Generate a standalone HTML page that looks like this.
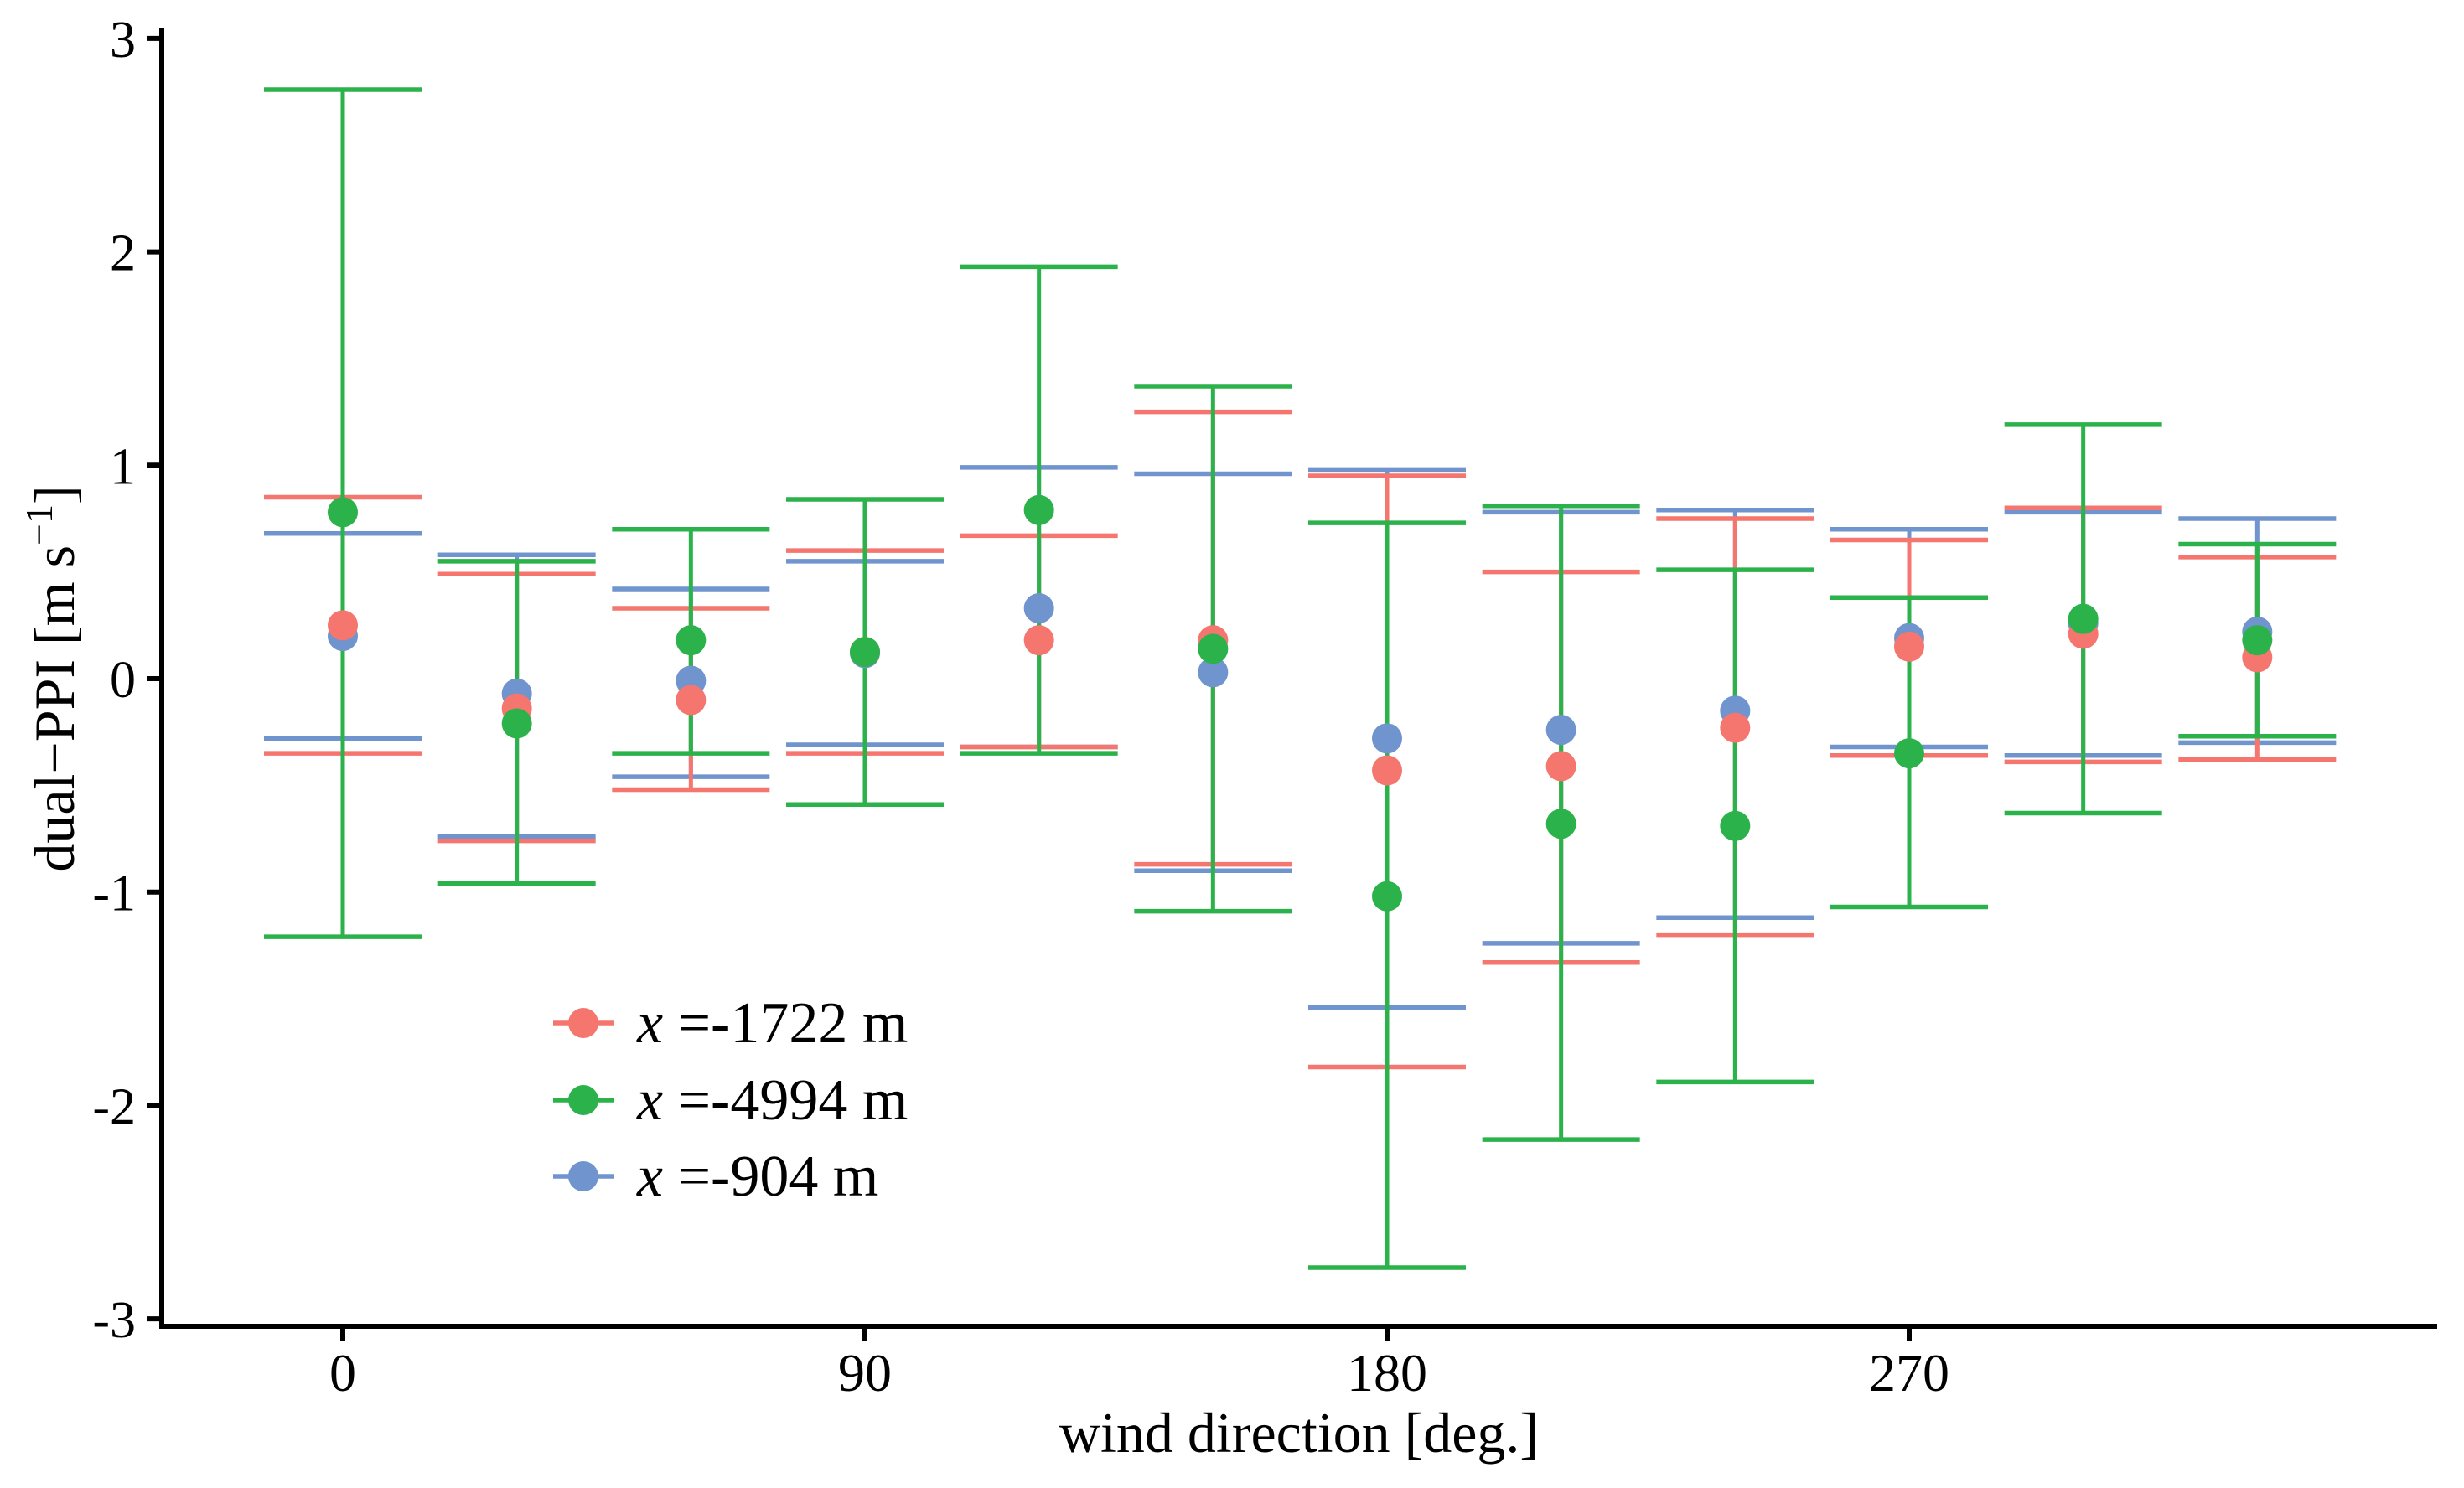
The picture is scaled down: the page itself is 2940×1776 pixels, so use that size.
<!DOCTYPE html>
<html><head><meta charset="utf-8"><style>
html,body{margin:0;padding:0;background:#fff;}
svg{display:block;}
text{font-family:"Liberation Serif",serif;fill:#000;}
</style></head><body>
<svg id="chart" width="2940" height="1776" viewBox="0 0 2940 1776" xmlns="http://www.w3.org/2000/svg">
<g id="marks"></g>
<g id="axes">
<line x1="193" y1="34" x2="193" y2="1586" stroke="#000" stroke-width="6"/>
<line x1="190" y1="1583" x2="2908" y2="1583" stroke="#000" stroke-width="6"/>
</g>
<text x="1550" y="1733" font-size="68" text-anchor="middle">wind direction [deg.]</text>
<text transform="translate(88,810) rotate(-90)" font-size="68" text-anchor="middle">dual−PPI [m s<tspan dy="-26" font-size="46">−1</tspan><tspan dy="26">]</tspan></text>
<g id="legend"></g>
</svg>
<script>
const categories = [0,30,60,90,120,150,180,210,240,270,300,330];
const seriesNames = ["x =-904 m","x =-1722 m","x =-4994 m"];
const blueMean  = [0.20,-0.07,-0.01,0.12,0.33,0.03,-0.28,-0.24,-0.15,0.19,0.26,0.22];
const blueLow   = [-0.28,-0.74,-0.46,-0.31,-0.32,-0.90,-1.54,-1.24,-1.12,-0.32,-0.36,-0.30];
const blueHigh  = [0.68,0.58,0.42,0.55,0.99,0.96,0.98,0.78,0.79,0.70,0.78,0.75];
const redMean   = [0.25,-0.14,-0.10,0.125,0.18,0.18,-0.43,-0.41,-0.23,0.15,0.21,0.10];
const redLow    = [-0.35,-0.76,-0.52,-0.35,-0.32,-0.87,-1.82,-1.33,-1.20,-0.36,-0.39,-0.38];
const redHigh   = [0.85,0.49,0.33,0.60,0.67,1.25,0.95,0.50,0.75,0.65,0.80,0.57];
const greenMean = [0.78,-0.21,0.18,0.125,0.79,0.14,-1.02,-0.68,-0.69,-0.35,0.28,0.18];
const greenLow  = [-1.21,-0.96,-0.35,-0.59,-0.35,-1.09,-2.76,-2.16,-1.89,-1.07,-0.63,-0.27];
const greenHigh = [2.76,0.55,0.70,0.84,1.93,1.37,0.73,0.81,0.51,0.38,1.19,0.63];
const yTicks = [-3,-2,-1,0,1,2,3];
const yTickLabels = ["-3","-2","-1","0","1","2","3"];
const xTicks = [0,90,180,270];
const xTickLabels = ["0","90","180","270"];

const NS = "http://www.w3.org/2000/svg";
function xs(d){ return 409 + d*(623/90); }
function ys(v){ return 810 - v*254.7; }
function mk(tag, attrs, parent){
  const e = document.createElementNS(NS, tag);
  for (const k in attrs) e.setAttribute(k, attrs[k]);
  parent.appendChild(e); return e;
}
const marks = document.getElementById('marks');
const axes = document.getElementById('axes');
const series = [
  {name:'blue', color:'#7094CD', mean:blueMean, low:blueLow, high:blueHigh},
  {name:'red', color:'#F4766E', mean:redMean, low:redLow, high:redHigh},
  {name:'green', color:'#2CB24A', mean:greenMean, low:greenLow, high:greenHigh}
];
const half = 94;
series.forEach(s=>{
  const g = mk('g', {}, marks);
  
  
  categories.forEach((c,i)=>{
    const cx = xs(c);
    const v = mk('line', {x1:cx, x2:cx, y1:ys(s.low[i]), y2:ys(s.high[i]), stroke:s.color, 'stroke-width':5}, g);
    
    
    [s.low[i], s.high[i]].forEach((val,j)=>{
      const cap = mk('line', {x1:cx-half, x2:cx+half, y1:ys(val), y2:ys(val), stroke:s.color, 'stroke-width':5.5}, g);
      
      
    });
  });
});
series.forEach(s=>{
  categories.forEach((c,i)=>{
    const p = mk('circle', {cx:xs(c), cy:ys(s.mean[i]), r:18, fill:s.color}, marks);
    
    
  });
});
yTicks.forEach((t,i)=>{
  const l = mk('line', {x1:175, x2:193, y1:ys(t), y2:ys(t), stroke:'#000', 'stroke-width':6}, axes);
  
  
  const tx = mk('text', {x:162, y:ys(t)+22, 'font-size':62, 'text-anchor':'end'}, axes);
  tx.textContent = yTickLabels[i];
  
  
});
xTicks.forEach((t,i)=>{
  const l = mk('line', {x1:xs(t), x2:xs(t), y1:1583, y2:1601, stroke:'#000', 'stroke-width':6}, axes);
  
  
  const tx = mk('text', {x:xs(t), y:1660, 'font-size':64, 'text-anchor':'middle'}, axes);
  tx.textContent = xTickLabels[i];
  
  
});
const legend = document.getElementById('legend');
const legItems = [
  {color:'#F4766E', label:'-1722 m', y:1221},
  {color:'#2CB24A', label:'-4994 m', y:1313},
  {color:'#7094CD', label:'-904 m', y:1404}
];
legItems.forEach(it=>{
  const g = mk('g', {}, legend);
  
  
  mk('line', {x1:660, x2:733, y1:it.y, y2:it.y, stroke:it.color, 'stroke-width':5.5}, g);
  mk('circle', {cx:696, cy:it.y, r:18, fill:it.color}, g);
  const t = mk('text', {x:760, y:it.y+23, 'font-size':70}, g);
  const ti = mk('tspan', {'font-style':'italic'}, t);
  ti.textContent = 'x';
  const tr = mk('tspan', {}, t);
  tr.textContent = ' =' + it.label;
});
</script>
</body></html>
